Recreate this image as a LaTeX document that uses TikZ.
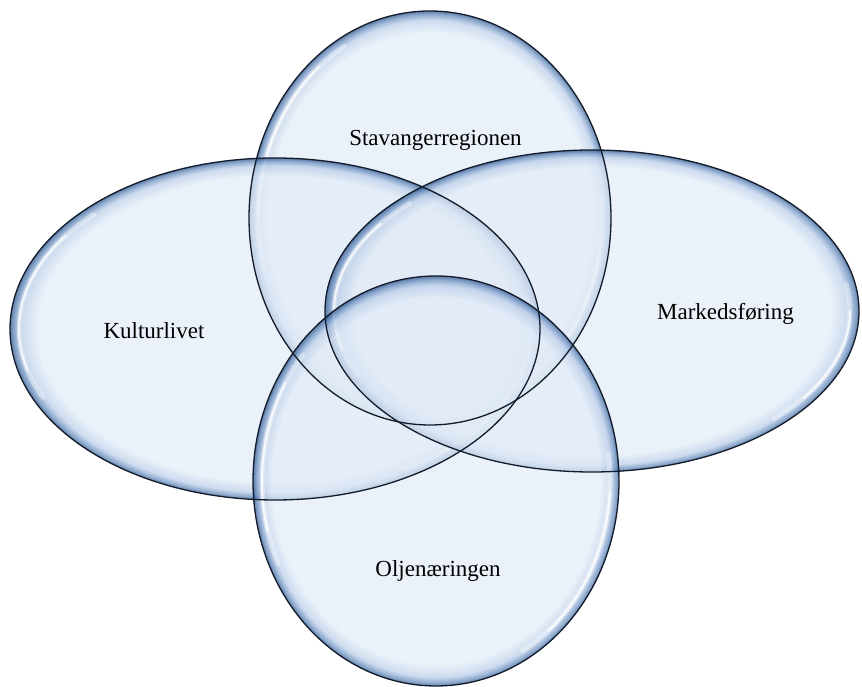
\documentclass[tikz,border=0pt]{standalone}
\usepackage{fontspec}
\setmainfont{Liberation Serif}
\usetikzlibrary{shapes.geometric}
\definecolor{bin}{RGB}{226,235,247}
\definecolor{bsoft}{RGB}{185,205,232}
\definecolor{bmid}{RGB}{100,138,188}
\definecolor{bedge}{RGB}{38,78,135}
\definecolor{bline}{RGB}{18,28,42}
\pgfdeclareradialshading{bubble}{\pgfpoint{0bp}{0bp}}{color(0bp)=(bin); color(22.4bp)=(bin); color(23.9bp)=(bsoft); color(24.6bp)=(bmid); color(25bp)=(bedge); color(50bp)=(bedge)}
\begin{document}
\begin{tikzpicture}[x=1pt,y=1pt,
  bub/.style={ellipse, inner sep=0pt, outer sep=0pt, shade, shading=bubble, fill opacity=0.72},
  rim/.style={draw=bline, line width=1.3pt},
  hlw/.style={white, line cap=round, line width=5pt, opacity=0.35},
  hln/.style={white, line cap=round, line width=2pt, opacity=0.8},
  lbl/.style={font=\fontsize{23}{27}\selectfont, text=black, anchor=base, inner sep=0pt}]
\useasboundingbox (0,0) rectangle (862,687);
% top ellipse
\node[bub, minimum width=362pt, minimum height=414pt] (T) at (430,469) {};
\draw[hlw] (T.center) ++(120:172 and 198) arc[start angle=120, end angle=195, x radius=172, y radius=198];
\draw[hln] (T.center) ++(130:172 and 198) arc[start angle=130, end angle=180, x radius=172, y radius=198];
\draw[hlw] (T.center) ++(-65:172 and 198) arc[start angle=-65, end angle=5, x radius=172, y radius=198];
\draw[hln] (T.center) ++(-55:172 and 198) arc[start angle=-55, end angle=-10, x radius=172, y radius=198];
% left ellipse
\node[bub, minimum width=530pt, minimum height=342pt] (L) at (275,358) {};
\draw[hlw] (L.center) ++(135:256 and 162) arc[start angle=135, end angle=205, x radius=256, y radius=162];
\draw[hln] (L.center) ++(145:256 and 162) arc[start angle=145, end angle=195, x radius=256, y radius=162];
\draw[hlw] (L.center) ++(-60:256 and 162) arc[start angle=-60, end angle=10, x radius=256, y radius=162];
\draw[hln] (L.center) ++(-50:256 and 162) arc[start angle=-50, end angle=-5, x radius=256, y radius=162];
% right ellipse
\node[bub, minimum width=534pt, minimum height=322pt] (R) at (592,376) {};
\draw[hlw] (R.center) ++(135:258 and 152) arc[start angle=135, end angle=205, x radius=258, y radius=152];
\draw[hln] (R.center) ++(145:258 and 152) arc[start angle=145, end angle=195, x radius=258, y radius=152];
\draw[hlw] (R.center) ++(-45:258 and 152) arc[start angle=-45, end angle=10, x radius=258, y radius=152];
\draw[hln] (R.center) ++(-35:258 and 152) arc[start angle=-35, end angle=0, x radius=258, y radius=152];
% bottom ellipse
\node[bub, minimum width=366pt, minimum height=410pt] (B) at (436,206) {};
\draw[hlw] (B.center) ++(140:174 and 196) arc[start angle=140, end angle=205, x radius=174, y radius=196];
\draw[hln] (B.center) ++(150:174 and 196) arc[start angle=150, end angle=195, x radius=174, y radius=196];
\draw[hlw] (B.center) ++(-60:174 and 196) arc[start angle=-60, end angle=8, x radius=174, y radius=196];
\draw[hln] (B.center) ++(-50:174 and 196) arc[start angle=-50, end angle=-3, x radius=174, y radius=196];
% outlines
\draw[rim] (T.center) ellipse[x radius=181, y radius=207];
\draw[rim] (L.center) ellipse[x radius=265, y radius=171];
\draw[rim] (R.center) ellipse[x radius=267, y radius=161];
\draw[rim] (B.center) ellipse[x radius=183, y radius=205];
% labels
\node[lbl] (tS) at (435.5,541) {Stavangerregionen};
\node[lbl] (tM) at (725.5,367) {Markedsføring};
\node[lbl] (tK) at (154,348) {Kulturlivet};
\node[lbl] (tO) at (438,110) {Oljenæringen};
\end{tikzpicture}
\end{document}
